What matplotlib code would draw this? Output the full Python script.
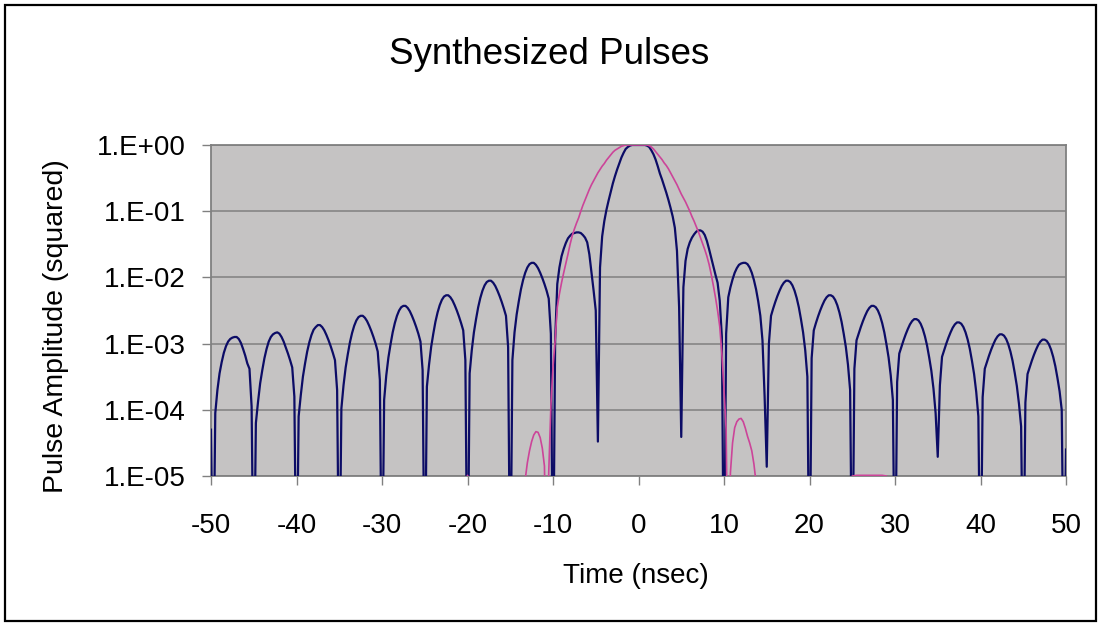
import numpy as np
import matplotlib.pyplot as plt
from matplotlib.patches import Rectangle

plt.rcParams['font.family'] = ['Liberation Sans', 'DejaVu Sans']

# time grid of the synthesized pulse (nsec)
t_navy = np.arange(-50, 50.01, 0.25)

# log10 of the squared amplitude, one row per 5 nsec lobe
navy_log = [
    -4.30, -7.00, -4.05, -3.70, -3.45, -3.28, -3.14, -3.04, -2.97, -2.93, -2.91, -2.90, -2.90, -2.93, -2.99, -3.08, -3.18, -3.30, -3.38, -3.95,
    -7.00, -4.20, -3.88, -3.60, -3.40, -3.22, -3.08, -2.97, -2.90, -2.86, -2.84, -2.83, -2.85, -2.90, -2.97, -3.06, -3.15, -3.25, -3.36, -3.80,
    -7.00, -4.10, -3.78, -3.50, -3.30, -3.12, -2.98, -2.87, -2.79, -2.75, -2.72, -2.72, -2.75, -2.80, -2.87, -2.95, -3.04, -3.14, -3.25, -3.70,
    -7.00, -3.98, -3.63, -3.36, -3.16, -2.98, -2.84, -2.73, -2.65, -2.60, -2.58, -2.58, -2.61, -2.66, -2.73, -2.81, -2.90, -3.00, -3.12, -3.55,
    -7.00, -3.85, -3.48, -3.21, -3.01, -2.83, -2.69, -2.58, -2.50, -2.45, -2.43, -2.43, -2.46, -2.51, -2.58, -2.66, -2.75, -2.85, -2.97, -3.40,
    -7.00, -3.65, -3.32, -3.05, -2.85, -2.67, -2.53, -2.42, -2.34, -2.29, -2.27, -2.27, -2.30, -2.35, -2.42, -2.50, -2.59, -2.69, -2.80, -3.25,
    -7.00, -3.45, -3.10, -2.83, -2.63, -2.45, -2.31, -2.20, -2.12, -2.07, -2.05, -2.05, -2.08, -2.13, -2.20, -2.28, -2.37, -2.47, -2.58, -3.05,
    -7.00, -3.25, -2.83, -2.56, -2.36, -2.18, -2.04, -1.93, -1.85, -1.80, -1.78, -1.78, -1.81, -1.86, -1.93, -2.01, -2.10, -2.20, -2.32, -2.85,
    -7.00, -2.95, -2.10, -1.85, -1.68, -1.57, -1.48, -1.41, -1.37, -1.34, -1.33, -1.32, -1.32, -1.33, -1.36, -1.40, -1.47, -1.65, -1.92, -2.20,
    -2.50, -4.48, -1.85, -1.38, -1.15, -0.98, -0.84, -0.71, -0.58, -0.47, -0.37, -0.28, -0.19, -0.12, -0.06, -0.03, -0.01, 0.00, 0.00, 0.00,
    0.00, 0.00, 0.00, 0.00, -0.01, -0.03, -0.08, -0.14, -0.22, -0.32, -0.43, -0.52, -0.62, -0.72, -0.83, -0.95, -1.08, -1.25, -1.60, -2.45,
    -4.41, -2.15, -1.75, -1.57, -1.47, -1.40, -1.35, -1.31, -1.29, -1.29, -1.31, -1.36, -1.45, -1.57, -1.70, -1.83, -1.96, -2.08, -2.35, -2.90,
    -7.00, -2.85, -2.30, -2.15, -2.03, -1.93, -1.86, -1.81, -1.79, -1.78, -1.78, -1.80, -1.85, -1.93, -2.04, -2.18, -2.36, -2.58, -2.95, -3.80,
    -4.86, -3.00, -2.58, -2.47, -2.37, -2.28, -2.20, -2.13, -2.08, -2.05, -2.05, -2.07, -2.12, -2.20, -2.31, -2.45, -2.63, -2.83, -3.10, -3.50,
    -7.00, -3.22, -2.80, -2.69, -2.59, -2.50, -2.42, -2.35, -2.30, -2.27, -2.27, -2.29, -2.34, -2.42, -2.53, -2.67, -2.85, -3.05, -3.32, -3.70,
    -7.00, -3.38, -2.95, -2.85, -2.75, -2.66, -2.58, -2.51, -2.46, -2.43, -2.43, -2.45, -2.50, -2.58, -2.69, -2.83, -3.01, -3.21, -3.48, -3.85,
    -7.00, -3.58, -3.15, -3.05, -2.95, -2.86, -2.78, -2.71, -2.66, -2.63, -2.63, -2.65, -2.70, -2.78, -2.89, -3.03, -3.21, -3.41, -3.68, -4.05,
    -4.71, -3.63, -3.20, -3.10, -3.00, -2.91, -2.83, -2.76, -2.71, -2.68, -2.68, -2.70, -2.75, -2.83, -2.94, -3.08, -3.26, -3.46, -3.73, -4.10,
    -7.00, -3.81, -3.38, -3.28, -3.18, -3.09, -3.01, -2.94, -2.89, -2.86, -2.86, -2.88, -2.93, -3.01, -3.12, -3.26, -3.44, -3.64, -3.91, -4.25,
    -7.00, -3.89, -3.46, -3.36, -3.26, -3.17, -3.09, -3.02, -2.97, -2.94, -2.94, -2.96, -3.01, -3.09, -3.20, -3.34, -3.52, -3.72, -4.00, -7.00,
    -4.60,
]

# second pulse: main lobe and first sidelobes
t_pink_main = np.arange(-13.5, 13.76, 0.25)
pink_main_log = [
    -7.00, -5.05, -4.80, -4.62, -4.48, -4.38, -4.33, -4.34, -4.42, -4.58, -4.85, -7.00,
    -4.95, -3.95, -3.35, -2.95, -2.45, -2.25, -2.08, -1.93, -1.79, -1.65, -1.50, -1.37,
    -1.27, -1.18, -1.10, -1.00, -0.91, -0.83, -0.75, -0.67, -0.60, -0.54, -0.48, -0.42,
    -0.37, -0.32, -0.28, -0.23, -0.19, -0.15, -0.11, -0.08, -0.06, -0.04, -0.02, -0.01,
    0.00, 0.00, 0.00, 0.00, 0.00, 0.00, 0.00, 0.00, 0.00, 0.00, 0.00,
    -0.01, -0.03, -0.06, -0.10, -0.14, -0.18, -0.22, -0.27, -0.31, -0.36, -0.42, -0.48,
    -0.54, -0.60, -0.67, -0.74, -0.80, -0.86, -0.93, -1.00, -1.08, -1.15, -1.23, -1.31,
    -1.40, -1.49, -1.58, -1.68, -1.80, -1.95, -2.12, -2.30, -2.50, -2.74, -3.15, -3.70,
    -4.30,
    -7.00, -4.95, -4.50, -4.27, -4.18, -4.14, -4.13, -4.18, -4.28, -4.40, -4.50, -4.62,
    -4.82, -5.10,
]
# faint far sidelobes just touching the axis floor
t_pink_left = [-20.5, -20.25, -20.0, -19.75, -19.5]
pink_left_log = [-7.00, -5.15, -4.99, -5.15, -7.00]
t_pink_right = [24.5, 24.75, 25.0, 25.5, 26.0, 26.5, 27.0, 27.5, 28.0, 28.5, 29.0, 29.25, 29.5]
pink_right_log = [-7.00, -5.10, -5.00, -4.99, -4.99, -4.99, -4.99, -4.99, -4.99, -4.99, -5.00, -5.10, -7.00]

y_ticks = [1e-5, 1e-4, 1e-3, 1e-2, 1e-1, 1e0]
y_labels = ['1.E-05', '1.E-04', '1.E-03', '1.E-02', '1.E-01', '1.E+00']
x_ticks = [-50, -40, -30, -20, -10, 0, 10, 20, 30, 40, 50]
x_labels = ['-50', '-40', '-30', '-20', '-10', '0', '10', '20', '30', '40', '50']

t_pink = np.concatenate([t_pink_left, t_pink_main, t_pink_right])
pink = 10 ** np.concatenate([pink_left_log, pink_main_log, pink_right_log])
navy = 10 ** np.array(navy_log)

W, H = 1101, 626
fig = plt.figure(figsize=(W / 100, H / 100), dpi=100)
fig.patch.set_facecolor('white')
fig.patches.append(Rectangle((5 / W, 5 / H), 1091 / W, 616 / H, transform=fig.transFigure,
                             fill=False, edgecolor='black', linewidth=1.6))

ax = fig.add_axes([211 / W, (H - 476) / H, 855 / W, 331 / H])
ax.set_facecolor('#c5c3c3')

ax.plot(t_navy, navy, color='#0c0c66', linewidth=1.6, zorder=3)
ax.plot(t_pink, pink, color='#cc4499', linewidth=1.2, zorder=4)

ax.set_yscale('log')
ax.set_xlim(-50, 50)
ax.set_ylim(1e-5, 1)
ax.set_yticks(y_ticks)
ax.set_yticklabels(y_labels)
ax.yaxis.set_minor_locator(plt.NullLocator())
ax.set_xticks(x_ticks)
ax.set_xticklabels(x_labels)
ax.grid(axis='y', color='#808080', linewidth=1.1)
ax.set_axisbelow(True)

for s in ax.spines.values():
    s.set_color('#808080')
    s.set_linewidth(1.3)
ax.tick_params(axis='both', direction='out', length=6.5, width=1, color='#808080',
               labelsize=20, labelcolor='black')
ax.tick_params(axis='x', pad=20)
ax.tick_params(axis='y', pad=12)

fig.text(549 / W, 1 - 64 / H, 'Synthesized Pulses', ha='center', va='baseline', fontsize=26.5)
fig.text(636 / W, 1 - 576 / H, 'Time (nsec)', ha='center', va='center', fontsize=20)
fig.text(56 / W, 1 - 326 / H, 'Pulse Amplitude (squared)', ha='center', va='center',
         rotation=90, fontsize=20.5)

fig.savefig('out.png', dpi=100)
